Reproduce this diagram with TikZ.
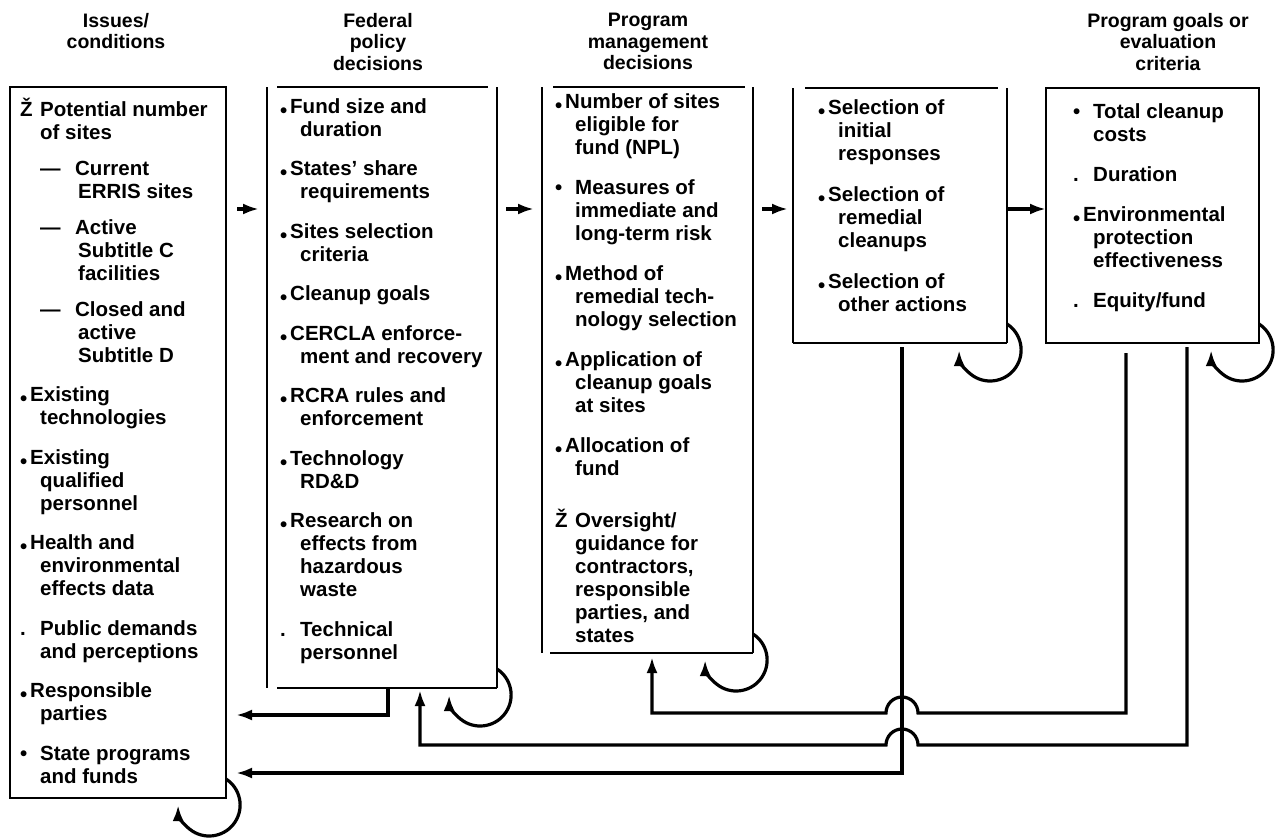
\documentclass[tikz,border=0pt]{standalone}
\usepackage{fontspec}
\setmainfont{Liberation Sans}
\usepackage{tikz}
\usetikzlibrary{arrows.meta, calc}

\newcommand\lb{\makebox[10pt][l]{\raisebox{-.2em}{\textbullet}}}
\newcommand\mk[1]{\makebox[20pt][l]{#1}}
\newcommand\ind{\hspace*{20pt}}
\newcommand\subind{\hspace*{58pt}}
\newcommand\dash{\hspace*{20pt}\makebox[35pt][l]{—}}

\tikzset{
  panel/.style={inner sep=0pt, outer sep=0pt, anchor=north west},
  boxed/.style={panel, draw, line width=2.8pt},
  rim/.style={line width=2.8pt},
  list/.style={inner sep=0pt, anchor=base west, font=\fontsize{20.5}{23}\selectfont\bfseries},
  head/.style={inner sep=0pt, anchor=north, align=center, font=\fontsize{19.5}{21.5}\selectfont\bfseries},
  fwd/.style={->, line width=3.2pt},
  fb/.style={->, line width=3.2pt},
}

\begin{document}
\begin{tikzpicture}[x=1pt, y=1pt, >={Latex[length=16pt,width=11pt]}]
  \useasboundingbox (0,0) rectangle (1279,-839);

  % column headings
  \node[head] (hiss) at (116,-13) {Issues/\\conditions};
  \node[head] (hfed) at (378,-13) {Federal\\policy\\decisions};
  \node[head] (hmgt) at (648,-13) {Program\\management\\decisions};
  \node[head] (hgoal) at (1168,-13) {Program goals or\\evaluation\\criteria};

  % boxes
  \node[boxed, minimum width=216pt, minimum height=711pt] (iss) at (10,-87) {};
  \node[panel, minimum width=230pt, minimum height=601pt] (fed) at (267,-87) {};
  \node[panel, minimum width=211pt, minimum height=566pt] (mgt) at (542,-87) {};
  \node[panel, minimum width=214pt, minimum height=255pt] (sel) at (793,-88) {};
  \node[boxed, minimum width=213pt, minimum height=255pt] (goal) at (1046,-88) {};

  \foreach \bx/\gl/\gr/\gb in {fed/10/9/10, mgt/11/8/8, sel/12/9/0} {
    \draw[rim] (\bx.north west) -- (\bx.south west);
    \draw[rim] ([xshift=\gl]\bx.north west) -- ([xshift=-\gr]\bx.north east);
    \draw[rim] (\bx.north east) -- (\bx.south east);
    \draw[rim] ([xshift=\gb]\bx.south west) -- (\bx.south east);
  }

  % box contents
  \node[list] (isstxt) at (20,-116) {\begin{tabular}[t]{@{}l@{}}
    \mk{Ž}Potential number\\
    \ind of sites\\[13pt]
    \dash Current\\
    \subind ERRIS sites\\[13pt]
    \dash Active\\
    \subind Subtitle C\\
    \subind facilities\\[13pt]
    \dash Closed and\\
    \subind active\\
    \subind Subtitle D\\[16.5pt]
    \lb Existing\\
    \ind technologies\\[16.5pt]
    \lb Existing\\
    \ind qualified\\
    \ind personnel\\[16.5pt]
    \lb Health and\\
    \ind environmental\\
    \ind effects data\\[16.5pt]
    \mk{.}Public demands\\
    \ind and perceptions\\[16.5pt]
    \lb Responsible\\
    \ind parties\\[16.5pt]
    \mk{\textbullet}State programs\\
    \ind and funds
  \end{tabular}};

  \node[list] (fedtxt) at (280,-113) {\begin{tabular}[t]{@{}l@{}}
    \lb Fund size and\\
    \ind duration\\[16.5pt]
    \lb States’ share\\
    \ind requirements\\[16.5pt]
    \lb Sites selection\\
    \ind criteria\\[16.5pt]
    \lb Cleanup goals\\[16.5pt]
    \lb CERCLA enforce-\\
    \ind ment and recovery\\[16.5pt]
    \lb RCRA rules and\\
    \ind enforcement\\[16.5pt]
    \lb Technology\\
    \ind RD\&D\\[16.5pt]
    \lb Research on\\
    \ind effects from\\
    \ind hazardous\\
    \ind waste\\[16.5pt]
    \mk{.}Technical\\
    \ind personnel
  \end{tabular}};

  \node[list] (mgttxt) at (555,-108) {\begin{tabular}[t]{@{}l@{}}
    \lb Number of sites\\
    \ind eligible for\\
    \ind fund (NPL)\\[17pt]
    \mk{\textbullet}Measures of\\
    \ind immediate and\\
    \ind long-term risk\\[17pt]
    \lb Method of\\
    \ind remedial tech-\\
    \ind nology selection\\[17pt]
    \lb Application of\\
    \ind cleanup goals\\
    \ind at sites\\[17pt]
    \lb Allocation of\\
    \ind fund\\[27pt]
    \mk{Ž}Oversight/\\
    \ind guidance for\\
    \ind contractors,\\
    \ind responsible\\
    \ind parties, and\\
    \ind states
  \end{tabular}};

  \node[list] (seltxt) at (818,-114) {\begin{tabular}[t]{@{}l@{}}
    \lb Selection of\\
    \ind initial\\
    \ind responses\\[18pt]
    \lb Selection of\\
    \ind remedial\\
    \ind cleanups\\[18pt]
    \lb Selection of\\
    \ind other actions
  \end{tabular}};

  \node[list] (goaltxt) at (1073,-118) {\begin{tabular}[t]{@{}l@{}}
    \mk{\textbullet}Total cleanup\\
    \ind costs\\[17pt]
    \mk{.}Duration\\[17pt]
    \lb Environmental\\
    \ind protection\\
    \ind effectiveness\\[17pt]
    \mk{.}Equity/fund
  \end{tabular}};

  % forward arrows
  \coordinate (fy) at (0,-209);
  \draw[fwd] ([xshift=11]iss.east |- fy) -- ([xshift=-8]fed.west |- fy);
  \draw[fwd] ([xshift=9]fed.east |- fy) -- ([xshift=-8]mgt.west |- fy);
  \draw[fwd] ([xshift=9]mgt.east |- fy) -- ([xshift=-5]sel.west |- fy);
  \draw[fwd] (sel.east |- fy) -- (goal.west |- fy);

  % self loops
  \foreach \bx in {iss, fed, mgt, sel, goal}
    \draw[fb] ([yshift=19]\bx.south east) arc[start angle=57, end angle=-180, radius=31pt];

  % feedback lines
  \coordinate (xa) at (388,0);
  \coordinate (xf) at (420,0);
  \coordinate (xm) at (652,0);
  \coordinate (xc) at (902,0);
  \coordinate (xd) at (1126,0);
  \coordinate (xb) at (1187,0);
  \coordinate (yd) at (0,-713);
  \coordinate (ya) at (0,-715);
  \coordinate (yb) at (0,-745);
  \coordinate (yc) at (0,-773);

  \draw[fb] (fed.south -| xa) |- ([xshift=10]iss.east |- ya);
  \draw[fb] ([yshift=-4]sel.south -| xc) |- ([xshift=10]iss.east |- yc);
  \draw[fb] ([yshift=-10]goal.south -| xd) -- (xd |- yd)
    -- ([xshift=16]xc |- yd) arc[start angle=0, end angle=180, radius=16pt]
    -- (xm |- yd) -- ([yshift=-4]mgt.south -| xm);
  \draw[fb] ([yshift=-4]goal.south -| xb) -- (xb |- yb)
    -- ([xshift=16]xc |- yb) arc[start angle=0, end angle=180, radius=16pt]
    -- (xf |- yb) -- ([yshift=-2]fed.south -| xf);
\end{tikzpicture}
\end{document}
